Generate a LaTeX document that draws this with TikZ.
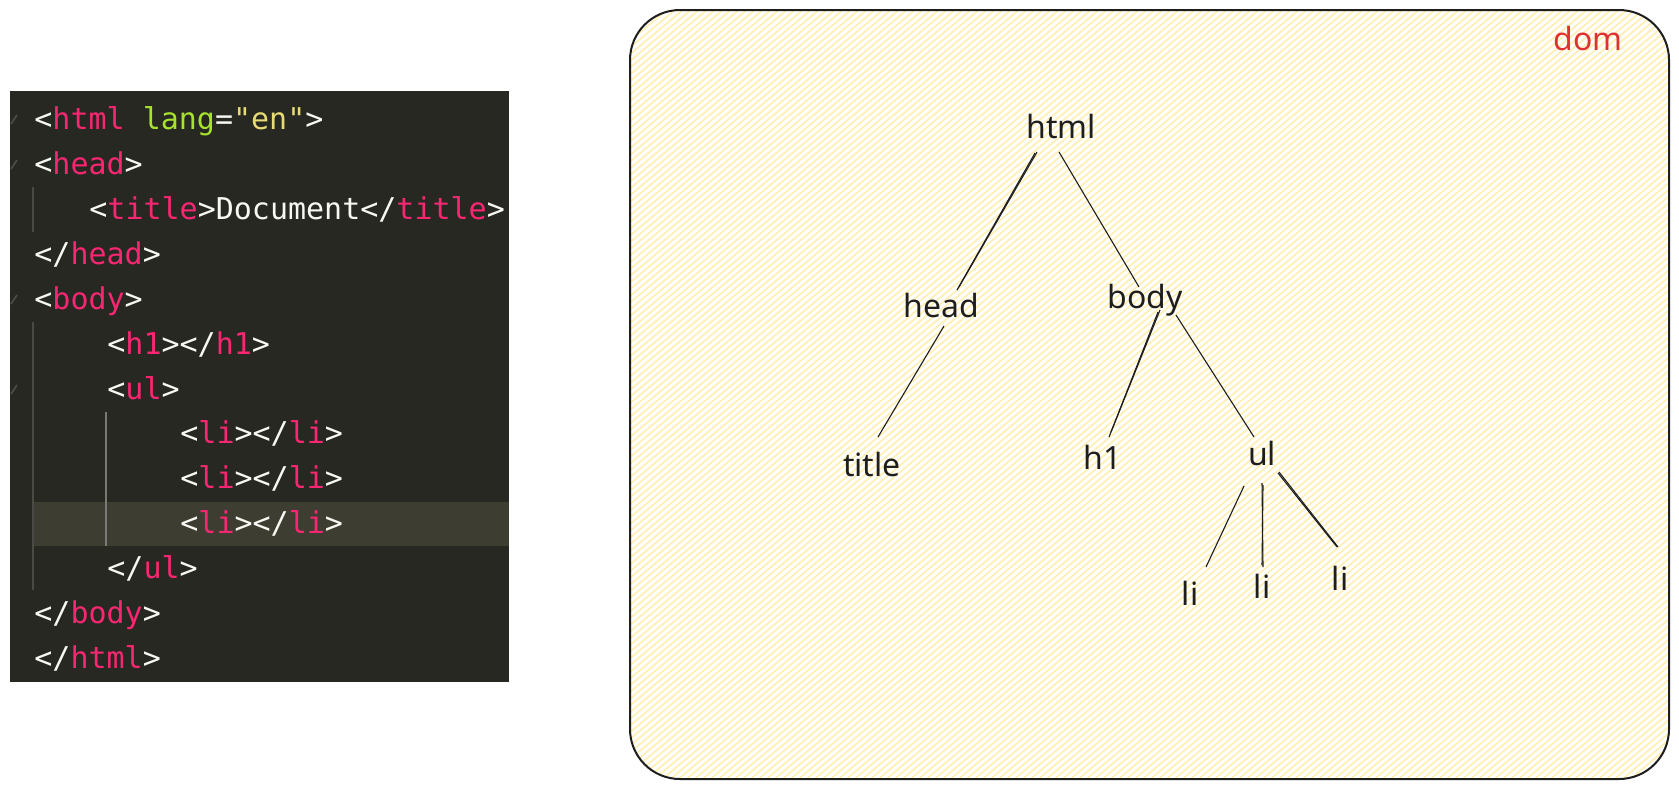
\documentclass[tikz,border=0pt]{standalone}
\usepackage{fontspec}
\setmonofont{DejaVu Sans Mono}
\newfontfamily\treefont{Noto Sans}
\definecolor{codebg}{HTML}{272822}
\definecolor{hlbg}{HTML}{3E3D32}
\definecolor{tagc}{HTML}{F92672}
\definecolor{puncc}{HTML}{F8F8F2}
\definecolor{attrc}{HTML}{A6E22E}
\definecolor{strc}{HTML}{E6DB74}
\definecolor{guidec}{HTML}{4A4A44}
\definecolor{guideact}{HTML}{7A7A74}
\definecolor{foldc}{HTML}{4E4E48}
\definecolor{ink}{HTML}{1E1E1E}
\definecolor{hach}{HTML}{FFEFB0}
\definecolor{domred}{HTML}{E03131}
\newcommand\ctag[1]{\textcolor{tagc}{#1}}
\newcommand\cattr[1]{\textcolor{attrc}{#1}}
\newcommand\cstr[1]{\textcolor{strc}{#1}}
\begin{document}
\begin{tikzpicture}[x=0.5pt,y=-0.5pt,
  codeline/.style={anchor=base west, inner sep=0pt, text=puncc,
    font=\ttfamily\fontsize{15}{18}\selectfont},
  treenode/.style={anchor=base, inner sep=0pt, text=ink,
    font=\treefont\fontsize{16}{19}\selectfont},
  treeedge/.style={draw=ink, line width=0.55pt},
  guide/.style={draw=guidec, line width=1pt},
  foldmark/.style={draw=foldc, line width=0.8pt},
  hachline/.style={draw=hach, line width=0.8pt},
  boxborder/.style={draw=ink, line width=1pt, rounded corners=25}]
\useasboundingbox (0,0) rectangle (1679,789);
\fill[white] (0,0) rectangle (1679,789);

% ---------------- code panel ----------------
\fill[codebg] (10,91) rectangle (509,682);
\fill[hlbg] (33,502) rectangle (509,546);
\draw[guide] (33,187) -- (33,232);
\draw[guide] (33,322) -- (33,590);
\draw[guide, draw=guideact] (106,412) -- (106,546);
\draw[foldmark] (11,124) -- (17,115);
\draw[foldmark] (11,169) -- (17,160);
\draw[foldmark] (11,304) -- (17,295);
\draw[foldmark] (11,394) -- (17,385);

\node[codeline] (c0)  at (34,129) {<\ctag{html} \cattr{lang}=\cstr{"en"}>};
\node[codeline] (c1)  at (34,174) {<\ctag{head}>};
\node[codeline] (c2)  at (89,219) {<\ctag{title}>Document</\ctag{title}>};
\node[codeline] (c3)  at (34,264) {</\ctag{head}>};
\node[codeline] (c4)  at (34,309) {<\ctag{body}>};
\node[codeline] (c5)  at (107,354) {<\ctag{h1}></\ctag{h1}>};
\node[codeline] (c6)  at (107,399) {<\ctag{ul}>};
\node[codeline] (c7)  at (180,443) {<\ctag{li}></\ctag{li}>};
\node[codeline] (c8)  at (180,488) {<\ctag{li}></\ctag{li}>};
\node[codeline] (c9)  at (180,533) {<\ctag{li}></\ctag{li}>};
\node[codeline] (c10) at (107,578) {</\ctag{ul}>};
\node[codeline] (c11) at (34,623) {</\ctag{body}>};
\node[codeline] (c12) at (34,668) {</\ctag{html}>};

% ---------------- dom box ----------------
\begin{scope}
  \clip[rounded corners=25] (630,10) rectangle (1669,779);
  \fill[white] (630,10) rectangle (1669,779);
  \foreach \k in {-292,-284,...,1672} {
    \draw[hachline] (\k,781) -- (\k+920,9);
  }
\end{scope}
\draw[boxborder] (630,10) rectangle (1669,779);

\node[treenode, text=domred] (dom) at (1588,50) {dom};

\node[treenode] (html)  at (1061,138) {html};
\node[treenode] (head)  at (941,317) {head};
\node[treenode] (body)  at (1145,308) {body};
\node[treenode] (title) at (872,476) {title};
\node[treenode] (h1)    at (1103,469) {h1};
\node[treenode] (ul)    at (1262,465) {ul};
\node[treenode] (li1)   at (1190,605) {li};
\node[treenode] (li2)   at (1262,598) {li};
\node[treenode] (li3)   at (1340,590) {li};

\draw[treeedge] ([shift={(-26,15)}]html.base) -- ([shift={(16,-27)}]head.base);
\draw[treeedge] ([shift={(-24,14)}]html.base) -- ([shift={(18,-30)}]head.base);
\draw[treeedge] ([shift={(-2,14)}]html.base) -- ([shift={(-6,-21)}]body.base);
\draw[treeedge] ([shift={(3,9)}]head.base) -- ([shift={(6,-39)}]title.base);
\draw[treeedge] ([shift={(15,2)}]body.base) -- ([shift={(6,-32)}]h1.base);
\draw[treeedge] ([shift={(13,4)}]body.base) -- ([shift={(8,-37)}]h1.base);
\draw[treeedge] ([shift={(31,7)}]body.base) -- ([shift={(-8,-28)}]ul.base);
\draw[treeedge] ([shift={(-18,21)}]ul.base) -- ([shift={(16,-38)}]li1.base);
\draw[treeedge] ([shift={(0,18)}]ul.base) -- ([shift={(1,-31)}]li2.base);
\draw[treeedge] ([shift={(1,20)}]ul.base) -- ([shift={(0,-33)}]li2.base);
\draw[treeedge] ([shift={(17,7)}]ul.base) -- ([shift={(-2,-43)}]li3.base);
\draw[treeedge] ([shift={(16,8)}]ul.base) -- ([shift={(-3,-43)}]li3.base);
\end{tikzpicture}
\end{document}
